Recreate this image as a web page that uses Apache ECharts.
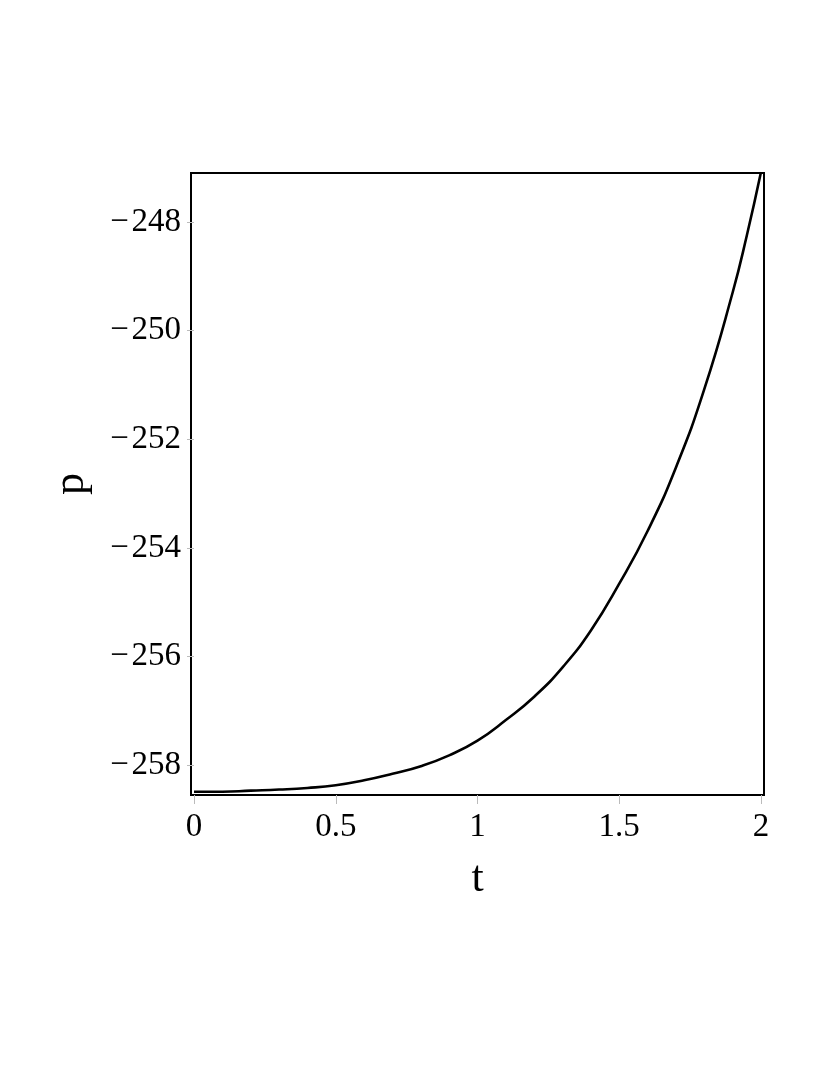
<!DOCTYPE html>
<html>
<head>
<meta charset="utf-8">
<title>p vs t</title>
<script src="https://cdn.jsdelivr.net/npm/echarts@6/dist/echarts.min.js"></script>
<style>
    html, body {
        margin: 0;
        padding: 0;
        background: #ffffff;
    }
    #my_chart {
        width: 830px;
        height: 1075px;
    }
</style>
</head>
<body>
<div id="my_chart"></div>
<script>
    // values
    var tValues = [0, 0.1, 0.2, 0.3, 0.4, 0.5, 0.6, 0.7, 0.8, 0.9, 1.0,
        1.1, 1.2, 1.3, 1.4, 1.5, 1.6, 1.7, 1.8, 1.9, 1.95, 2.0];
    var pValues = [-258.49, -258.49, -258.47, -258.45, -258.42, -258.37, -258.28, -258.16, -258.02, -257.82, -257.55,
        -257.17, -256.74, -256.20, -255.52, -254.66, -253.69, -252.52, -251.08, -249.30, -248.25, -247.08];

    var xTickValues = [0, 0.5, 1, 1.5, 2];
    var yTickValues = [-258, -256, -254, -252, -250, -248];

    var fontName = '"Liberation Serif", "Times New Roman", serif';

    var points = [];
    for (var i = 0; i < tValues.length; i++) {
        points.push([tValues[i], pValues[i]]);
    }

    var myChart = echarts.init(document.getElementById('my_chart'), null, {renderer: 'canvas'});
    var option = {
        animation: false,
        backgroundColor: '#ffffff',
        grid: {
            left: 191,
            top: 173,
            width: 573,
            height: 622,
            show: true,
            borderColor: '#000000',
            borderWidth: 2,
            backgroundColor: 'transparent'
        },
        xAxis: {
            type: 'value',
            min: -0.0106,
            max: 2.0106,
            name: 't',
            nameLocation: 'middle',
            nameGap: 62,
            nameTextStyle: {fontFamily: fontName, fontSize: 44, color: '#000'},
            axisLine: {show: false},
            splitLine: {show: false},
            axisTick: {
                show: true,
                customValues: xTickValues,
                length: 9,
                lineStyle: {color: '#bbbbbb', width: 1}
            },
            axisLabel: {
                customValues: xTickValues,
                margin: 16,
                fontFamily: fontName,
                fontSize: 33,
                color: '#000'
            }
        },
        yAxis: {
            type: 'value',
            min: -258.55,
            max: -247.10,
            name: 'p',
            nameLocation: 'middle',
            nameGap: 98,
            nameRotate: 90,
            nameTextStyle: {fontFamily: fontName, fontSize: 44, color: '#000'},
            axisLine: {show: false},
            splitLine: {show: false},
            axisTick: {
                show: true,
                customValues: yTickValues,
                length: 7,
                lineStyle: {color: '#bbbbbb', width: 1}
            },
            axisLabel: {
                customValues: yTickValues,
                margin: 10,
                fontFamily: fontName,
                fontSize: 33,
                color: '#000',
                formatter: function (v) {
                    return v < 0 ? '\u2212\u200a' + Math.abs(v) : String(v);
                }
            }
        },
        series: [
            {
                name: 'p',
                type: 'line',
                data: points,
                showSymbol: false,
                smooth: true,
                lineStyle: {color: '#000000', width: 2.6},
                clip: true
            }
        ]
    };

    myChart.setOption(option);
</script>
</body>
</html>
